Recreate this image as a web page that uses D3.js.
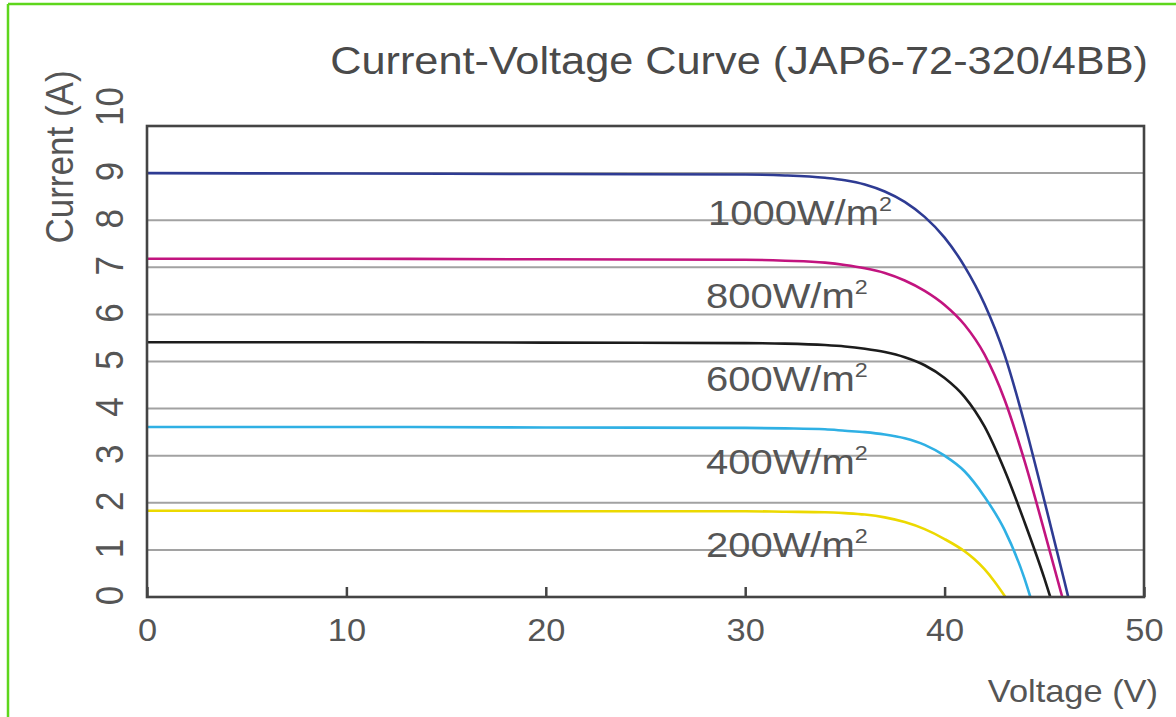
<!DOCTYPE html>
<html>
<head>
<meta charset="utf-8">
<script src="https://d3js.org/d3.v7.min.js"></script>
<style>
  body { margin: 0; background: #ffffff; }
  svg { display: block; font-family: "Liberation Sans", Arial, Helvetica, sans-serif; }
</style>
</head>
<body>
<script>
// I-V curves
var irradiance = ["1000", "800", "600", "400", "200"];
var volt1000 = [0, 10, 20, 30, 32, 34, 35, 36, 37, 38, 39, 40, 41, 42, 43, 44, 45, 46, 46.2];
var curr1000 = [9.0, 8.99, 8.98, 8.97, 8.95, 8.9, 8.85, 8.76, 8.61, 8.39, 8.07, 7.63, 7.02, 6.22, 5.15, 3.7, 2.05, 0.35, 0];
var volt800 = [0, 10, 20, 30, 32, 34, 35, 36, 37, 38, 39, 40, 41, 42, 43, 44, 45, 45.9];
var curr800 = [7.18, 7.18, 7.17, 7.16, 7.14, 7.1, 7.05, 6.98, 6.88, 6.72, 6.5, 6.2, 5.78, 5.15, 4.2, 2.9, 1.4, 0];
var volt600 = [0, 10, 20, 30, 32, 34, 35, 36, 37, 38, 39, 40, 41, 42, 43, 44, 45, 45.3];
var curr600 = [5.41, 5.41, 5.40, 5.39, 5.38, 5.35, 5.32, 5.27, 5.2, 5.09, 4.92, 4.65, 4.25, 3.62, 2.7, 1.6, 0.4, 0];
var volt400 = [0, 10, 20, 30, 32, 34, 35, 36, 37, 38, 39, 40, 41, 42, 43, 44, 44.3];
var curr400 = [3.61, 3.61, 3.60, 3.59, 3.58, 3.56, 3.53, 3.5, 3.45, 3.37, 3.23, 3.0, 2.67, 2.13, 1.43, 0.4, 0];
var volt200 = [0, 10, 20, 30, 32, 34, 35, 36, 37, 38, 39, 40, 41, 41.5, 42, 42.5, 43.05];
var curr200 = [1.83, 1.83, 1.82, 1.82, 1.81, 1.8, 1.78, 1.75, 1.69, 1.59, 1.44, 1.23, 0.97, 0.8, 0.59, 0.33, 0];
var xTicks = [0, 10, 20, 30, 40, 50];
var yTicks = [0, 1, 2, 3, 4, 5, 6, 7, 8, 9, 10];

var colors = ["#2e3b93", "#c2147f", "#1c1c1c", "#2fb0e4", "#ecd900"];
var voltSets = [volt1000, volt800, volt600, volt400, volt200];
var currSets = [curr1000, curr800, curr600, curr400, curr200];

var W = 1176, H = 717;
var plotL = 147, plotR = 1144, plotT = 126, plotB = 597;
var sx = 1.11; // the picture is a little stretched sideways
var textCol = "#555555";

var svg = d3.select("body").append("svg")
  .attr("width", W).attr("height", H);

// green frame of the screenshot
svg.append("line").attr("x1", 8).attr("x2", 8).attr("y1", 4).attr("y2", H)
  .attr("stroke", "#5ed61c").attr("stroke-width", 2.5);
svg.append("line").attr("x1", 8).attr("x2", W).attr("y1", 4).attr("y2", 4)
  .attr("stroke", "#5ed61c").attr("stroke-width", 2.5);

var x = d3.scaleLinear().domain([0, 50]).range([plotL, plotR]);
var y = d3.scaleLinear().domain([0, 10]).range([plotB, plotT]);

// horizontal grid
svg.append("g").selectAll("line")
  .data(yTicks.filter(function(d) { return d > 0 && d < 10; }))
  .enter().append("line")
  .attr("x1", plotL).attr("x2", plotR)
  .attr("y1", function(d) { return y(d); })
  .attr("y2", function(d) { return y(d); })
  .attr("stroke", "#a2a2a2").attr("stroke-width", 2);

// curve labels
var labelBase = [225, 308, 391, 474, 557];
var labels = svg.append("g").selectAll("text")
  .data(irradiance)
  .enter().append("text")
  .attr("transform", function(d, i) {
    return "translate(" + (i == 0 ? 708 : 706) + "," + labelBase[i] + ") scale(" + sx + ",1)";
  })
  .attr("fill", textCol)
  .style("font-size", "36px");
labels.append("tspan").text(function(d) { return d + "W/m"; });
labels.append("tspan").attr("dy", -14).style("font-size", "21px").text("2");

// curves
var line = d3.line()
  .x(function(d) { return x(d[0]); })
  .y(function(d) { return y(d[1]); })
  .curve(d3.curveMonotoneX);

svg.append("g").selectAll("path")
  .data(voltSets.map(function(v, k) {
    return v.map(function(vv, j) { return [vv, currSets[k][j]]; });
  }).reverse())
  .enter().append("path")
  .attr("d", line)
  .attr("fill", "none")
  .attr("stroke", function(d, i) { return colors[colors.length - 1 - i]; })
  .attr("stroke-width", 2.6);

// x axis with small inward ticks
var xAxis = svg.append("g")
  .attr("transform", "translate(0," + plotB + ")")
  .call(d3.axisBottom(x).tickValues(xTicks).tickSizeInner(-10).tickSizeOuter(0));
xAxis.select(".domain").remove();
xAxis.selectAll(".tick line").attr("stroke", "#444").attr("stroke-width", 2.5);
xAxis.selectAll(".tick text")
  .attr("y", 44).attr("dy", 0)
  .attr("transform", "scale(" + sx + ",1)")
  .attr("fill", textCol)
  .style("font-size", "31px");

// y axis, labels turned on their side
var yAxis = svg.append("g")
  .attr("transform", "translate(" + plotL + ",0)")
  .call(d3.axisLeft(y).tickValues(yTicks).tickSize(0));
yAxis.select(".domain").remove();
yAxis.selectAll(".tick text")
  .attr("x", 0).attr("dy", 0)
  .attr("text-anchor", "middle")
  .attr("transform", function(d) {
    var shift = d == 10 ? -20 : -2;
    return "translate(-24," + shift + ") scale(" + sx + ",1) rotate(-90)";
  })
  .attr("fill", textCol)
  .style("font-size", "35px");

// frame
svg.append("rect")
  .attr("x", plotL).attr("y", plotT)
  .attr("width", plotR - plotL).attr("height", plotB - plotT)
  .attr("fill", "none").attr("stroke", "#444").attr("stroke-width", 2.6);

// titles
svg.append("text")
  .attr("transform", "translate(1148,74) scale(" + sx + ",1)")
  .attr("text-anchor", "end")
  .attr("fill", "#4a4a4a")
  .style("font-size", "39px")
  .text("Current-Voltage Curve (JAP6-72-320/4BB)");

svg.append("text")
  .attr("transform", "translate(1158,702) scale(" + sx + ",1)")
  .attr("text-anchor", "end")
  .attr("fill", textCol)
  .style("font-size", "31px")
  .text("Voltage (V)");

svg.append("text")
  .attr("transform", "translate(73,157) scale(" + sx + ",1) rotate(-90)")
  .attr("text-anchor", "middle")
  .attr("fill", textCol)
  .style("font-size", "35px")
  .text("Current (A)");
</script>
</body>
</html>
